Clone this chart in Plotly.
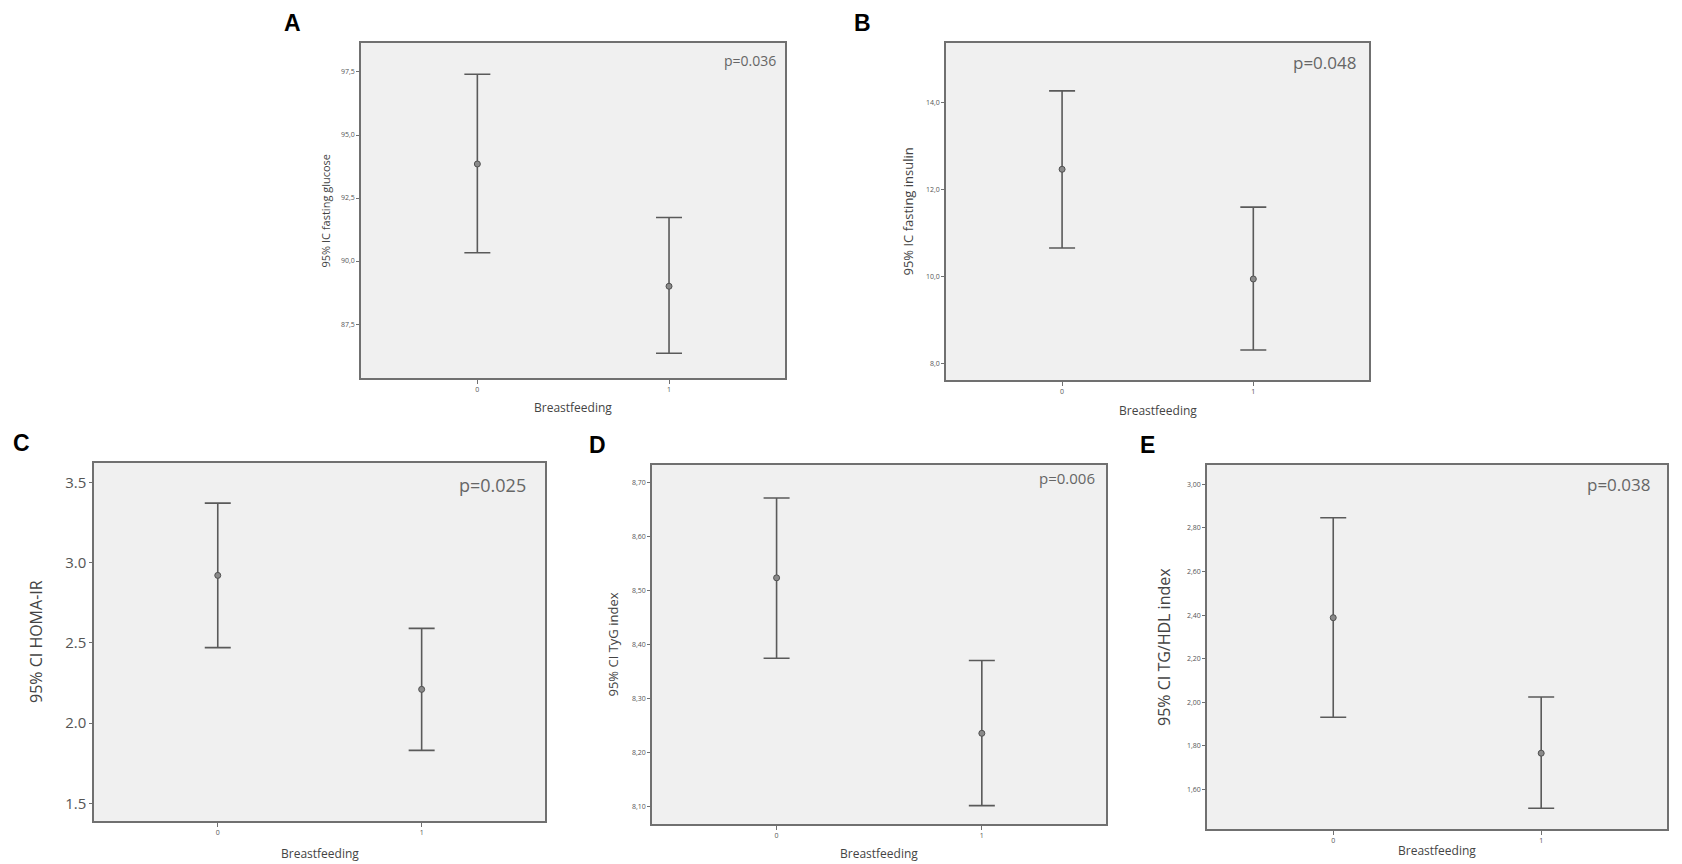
"""Five SPSS-style 95% CI error-bar panels (breastfeeding 0 vs 1)."""

import plotly.graph_objects as go

W, H = 1682, 864
PAGE_PAD = 8  # default body margin of the html page shifts the figure

GROUPS = [0, 1]

# means and 95% CI bounds, per panel (group 0, group 1)
glucose_mean = [93.85, 89.00]
glucose_lo = [90.33, 86.34]
glucose_hi = [97.41, 91.73]

insulin_mean = [12.46, 9.94]
insulin_lo = [10.65, 8.31]
insulin_hi = [14.26, 11.59]

homa_mean = [2.92, 2.21]
homa_lo = [2.47, 1.83]
homa_hi = [3.37, 2.59]

tyg_mean = [8.524, 8.236]
tyg_lo = [8.375, 8.102]
tyg_hi = [8.672, 8.371]

tghdl_mean = [2.388, 1.766]
tghdl_lo = [1.931, 1.513]
tghdl_hi = [2.847, 2.024]

# tick labels
glucose_ticks = [87.5, 90.0, 92.5, 95.0, 97.5]
glucose_ticktext = ["87,5", "90,0", "92,5", "95,0", "97,5"]
insulin_ticks = [8.0, 10.0, 12.0, 14.0]
insulin_ticktext = ["8,0", "10,0", "12,0", "14,0"]
homa_ticks = [1.5, 2.0, 2.5, 3.0, 3.5]
homa_ticktext = ["1.5", "2.0", "2.5", "3.0", "3.5"]
tyg_ticks = [8.1, 8.2, 8.3, 8.4, 8.5, 8.6, 8.7]
tyg_ticktext = ["8,10", "8,20", "8,30", "8,40", "8,50", "8,60", "8,70"]
tghdl_ticks = [1.6, 1.8, 2.0, 2.2, 2.4, 2.6, 2.8, 3.0]
tghdl_ticktext = ["1,60", "1,80", "2,00", "2,20", "2,40", "2,60", "2,80", "3,00"]

LINE = "#5a5a5a"
FRAME = "#707070"
PANEL_BG = "#f0f0f0"
TEXT = "#555555"
FONT = "Open Sans, Lato, sans-serif"


def px_dom(a, b):
    return [(a - PAGE_PAD) / W, (b - PAGE_PAD) / W]


def py_dom(top, bottom):
    return [1 - (bottom - PAGE_PAD) / H, 1 - (top - PAGE_PAD) / H]


panels = [
    dict(letter="A", mean=glucose_mean, lo=glucose_lo, hi=glucose_hi,
         ticks=glucose_ticks, ticktext=glucose_ticktext, tickfont=7,
         yrange=[85.36, 98.65], x=(361, 785), y=(43, 378),
         ytitle="95% IC fasting glucose", ytitle_size=11, ytitle_shift=-36,
         xtitle_y=407, p="p=0.036", p_size=14, p_off=(7, 17), letter_xy=(292, 16)),
    dict(letter="B", mean=insulin_mean, lo=insulin_lo, hi=insulin_hi,
         ticks=insulin_ticks, ticktext=insulin_ticktext, tickfont=7,
         yrange=[7.62, 15.36], x=(946, 1369), y=(43, 380),
         ytitle="95% IC fasting insulin", ytitle_size=13, ytitle_shift=-39,
         xtitle_y=410, p="p=0.048", p_size=17, p_off=(11, 19), letter_xy=(863, 16)),
    dict(letter="C", mean=homa_mean, lo=homa_lo, hi=homa_hi,
         ticks=homa_ticks, ticktext=homa_ticktext, tickfont=15,
         yrange=[1.39, 3.62], x=(94, 545), y=(463, 821),
         ytitle="95% CI HOMA-IR", ytitle_size=16, ytitle_shift=-58,
         xtitle_y=853, p="p=0.025", p_size=18, p_off=(17, 22), letter_xy=(11, 443)),
    dict(letter="D", mean=tyg_mean, lo=tyg_lo, hi=tyg_hi,
         ticks=tyg_ticks, ticktext=tyg_ticktext, tickfont=7,
         yrange=[8.068, 8.733], x=(652, 1106), y=(465, 824),
         ytitle="95% CI TyG index", ytitle_size=13, ytitle_shift=-40,
         xtitle_y=853, p="p=0.006", p_size=15, p_off=(9, 13), letter_xy=(597, 445)),
    dict(letter="E", mean=tghdl_mean, lo=tghdl_lo, hi=tghdl_hi,
         ticks=tghdl_ticks, ticktext=tghdl_ticktext, tickfont=7,
         yrange=[1.418, 3.089], x=(1207, 1667), y=(465, 829),
         ytitle="95% CI TG/HDL index", ytitle_size=16, ytitle_shift=-43,
         xtitle_y=850, p="p=0.038", p_size=17, p_off=(15, 19), letter_xy=(1147, 445)),
]

XRANGE = [-0.607, 1.605]

fig = go.Figure()
layout = {}
annotations = []

for i, p in enumerate(panels, start=1):
    xa = "x" if i == 1 else f"x{i}"
    ya = "y" if i == 1 else f"y{i}"
    up = [h - m for h, m in zip(p["hi"], p["mean"])]
    down = [m - l for m, l in zip(p["mean"], p["lo"])]
    fig.add_trace(go.Scatter(
        x=GROUPS, y=p["mean"], xaxis=xa, yaxis=ya,
        mode="markers",
        marker=dict(size=6, color="#8a8a8a", line=dict(color="#505050", width=1)),
        error_y=dict(type="data", symmetric=False, array=up, arrayminus=down,
                     color=LINE, thickness=1.6, width=13),
        showlegend=False, hoverinfo="y",
    ))

    layout[f"xaxis{'' if i == 1 else i}"] = dict(
        domain=px_dom(*p["x"]), anchor=ya, range=XRANGE,
        tickvals=GROUPS, ticktext=["0", "1"], tickfont=dict(size=7, color=TEXT),
        ticks="outside", ticklen=4, tickcolor=FRAME,
        showgrid=False, zeroline=False,
        showline=True, linecolor=FRAME, linewidth=1.5, mirror=True,
    )
    layout[f"yaxis{'' if i == 1 else i}"] = dict(
        domain=py_dom(*p["y"]), anchor=xa, range=p["yrange"],
        tickvals=p["ticks"], ticktext=p["ticktext"],
        tickfont=dict(size=p["tickfont"], color=TEXT),
        ticks="outside", ticklen=3, tickcolor=FRAME,
        showgrid=False, zeroline=False,
        showline=True, linecolor=FRAME, linewidth=1.5, mirror=True,
    )

    dom = f"{xa} domain"
    ydom = f"{ya} domain"
    # y-axis title
    annotations.append(dict(
        text=p["ytitle"], xref=dom, yref=ydom, x=0, y=0.5, xshift=p["ytitle_shift"],
        textangle=-90, showarrow=False, xanchor="center", yanchor="middle",
        font=dict(size=p["ytitle_size"], color="#444444", family=FONT),
    ))
    # x-axis title
    annotations.append(dict(
        text="Breastfeeding", xref=dom, yref="paper", x=0.5,
        y=1 - (p["xtitle_y"] - PAGE_PAD) / H,
        showarrow=False, xanchor="center", yanchor="middle",
        font=dict(size=12, color="#444444", family=FONT),
    ))
    # p-value
    annotations.append(dict(
        text=p["p"], xref=dom, yref=ydom, x=1, y=1,
        xshift=-p["p_off"][0], yshift=-p["p_off"][1],
        showarrow=False, xanchor="right", yanchor="middle",
        font=dict(size=p["p_size"], color="#666666", family=FONT),
    ))
    # panel letter (kept inside the figure canvas so it is not clipped)
    lx, ly = p["letter_xy"]
    lx_fig = max((lx - PAGE_PAD) / W, 0.0)
    x_anchor = "left" if lx - PAGE_PAD < 12 else "center"
    if ly - PAGE_PAD < 14:
        ly_fig, y_anchor = 1.0, "top"
    else:
        ly_fig, y_anchor = 1 - (ly - PAGE_PAD) / H, "middle"
    annotations.append(dict(
        text=f"<b>{p['letter']}</b>", xref="paper", yref="paper",
        x=lx_fig, y=ly_fig, showarrow=False, xanchor=x_anchor, yanchor=y_anchor,
        font=dict(size=23, color="black", family="Liberation Sans, Arial, sans-serif"),
    ))

fig.update_layout(
    width=W, height=H,
    margin=dict(l=0, r=0, t=0, b=0),
    paper_bgcolor="white",
    plot_bgcolor=PANEL_BG,
    font=dict(family=FONT, color=TEXT),
    annotations=annotations,
    **layout,
)

fig.write_html("out.html")
